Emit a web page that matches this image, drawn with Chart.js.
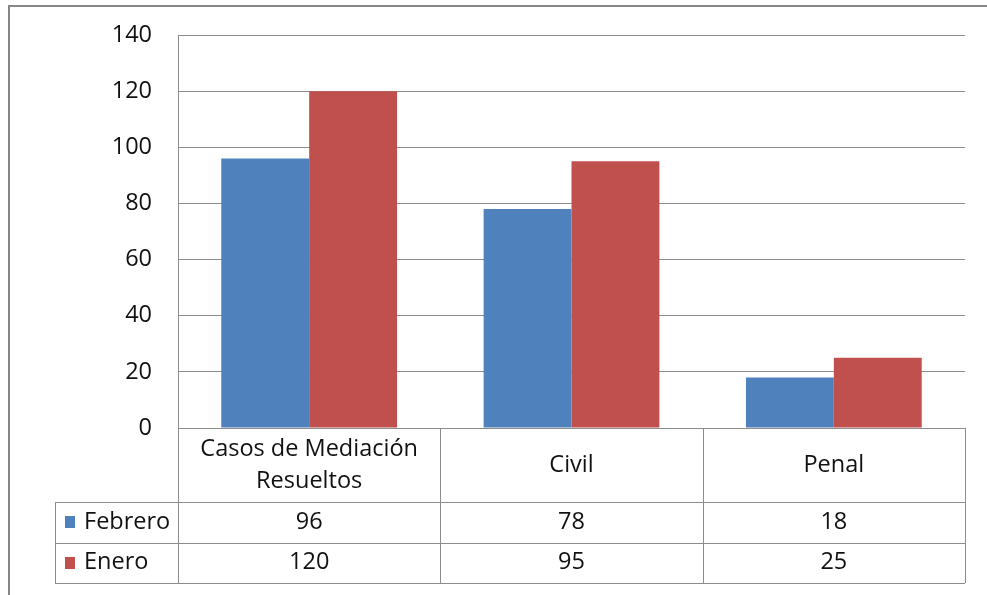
<!DOCTYPE html>
<html><head><meta charset="utf-8">
<script src="https://cdn.jsdelivr.net/npm/chart.js@4/dist/chart.umd.min.js"></script>
<style>html,body{margin:0;padding:0;background:#fff;}#wrap{width:987px;height:595px;position:relative;}</style>
</head><body><div id="wrap"><canvas id="c" width="987" height="595"></canvas></div>
<script>
const categories = [["Casos de Mediación","Resueltos"], "Civil", "Penal"];
const seriesNames = ["Febrero", "Enero"];
const febrero = [96, 78, 18];
const enero = [120, 95, 25];
const yTicks = [0, 20, 40, 60, 80, 100, 120, 140];
const colors = ["#4F81BD", "#C0504D"];

const FONT = "'Open Sans', sans-serif";
const FS = 23.5;
const LINE = "#8c8c8c";
const TXT = "#111111";

const tablePlugin = {
  id: 'dataTable',
  beforeDraw(chart) {
    const ctx = chart.ctx;
    ctx.save();
    ctx.fillStyle = '#fff';
    ctx.fillRect(0, 0, chart.width, chart.height);
    ctx.strokeStyle = '#878787';
    ctx.lineWidth = 2;
    ctx.strokeRect(9, 6, chart.width + 20, chart.height + 20);
    ctx.restore();
  },
  afterDraw(chart) {
    const ctx = chart.ctx;
    const a = chart.chartArea;
    const xs = chart.scales.x;
    const n = categories.length;
    const cw = (a.right - a.left) / n;
    const headerH = 74, rowH = 40.5;
    const legendLeft = a.left - 123;
    const yTop = a.bottom;
    const yHead = yTop + headerH;
    const rowsY = [yHead, yHead + rowH, yHead + 2 * rowH];
    ctx.save();
    ctx.strokeStyle = LINE;
    ctx.lineWidth = 1;
    const h = (x1, x2, y) => { ctx.beginPath(); ctx.moveTo(x1, Math.round(y) + 0.5); ctx.lineTo(x2, Math.round(y) + 0.5); ctx.stroke(); };
    const v = (x, y1, y2) => { ctx.beginPath(); ctx.moveTo(Math.round(x) + 0.5, y1); ctx.lineTo(Math.round(x) + 0.5, y2); ctx.stroke(); };
    h(a.left, a.right, yTop);
    rowsY.forEach(y => h(legendLeft, a.right, y));
    v(a.left, a.top, rowsY[2]);
    for (let i = 0; i < n; i++) {
      const right = xs.getPixelForValue(i) + cw / 2;
      v(right, yTop, rowsY[2]);
    }
    v(legendLeft, rowsY[0], rowsY[2]);
    ctx.fillStyle = TXT;
    ctx.font = FS + 'px ' + FONT;
    ctx.textAlign = 'center';
    ctx.textBaseline = 'middle';
    categories.forEach((c, i) => {
      const cx = xs.getPixelForValue(i);
      const lines = Array.isArray(c) ? c : [c];
      const lh = 32;
      const cy = (yTop + yHead) / 2;
      lines.forEach((t, k) => {
        ctx.fillText(t, cx, cy + (k - (lines.length - 1) / 2) * lh);
      });
    });
    const series = [febrero, enero];
    series.forEach((data, r) => {
      const cy = (rowsY[r] + rowsY[r + 1]) / 2;
      data.forEach((val, i) => {
        ctx.fillStyle = TXT;
        ctx.textAlign = 'center';
        ctx.fillText(String(val), xs.getPixelForValue(i), cy);
      });
      ctx.fillStyle = colors[r];
      ctx.fillRect(legendLeft + 10, Math.round(cy - 6), 10, 12);
      ctx.fillStyle = TXT;
      ctx.textAlign = 'left';
      ctx.fillText(seriesNames[r], legendLeft + 29, cy);
    });
    ctx.restore();
  }
};

new Chart(document.getElementById('c'), {
  type: 'bar',
  data: {
    labels: categories.map(c => Array.isArray(c) ? c.join(' ') : c),
    datasets: [
      { label: seriesNames[0], data: febrero, backgroundColor: colors[0], categoryPercentage: 0.67, barPercentage: 1.0 },
      { label: seriesNames[1], data: enero, backgroundColor: colors[1], categoryPercentage: 0.67, barPercentage: 1.0 }
    ]
  },
  options: {
    responsive: false,
    animation: false,
    devicePixelRatio: 1,
    layout: { padding: { left: 0, top: 35, right: 22, bottom: 167 } },
    plugins: { legend: { display: false }, tooltip: { enabled: false } },
    scales: {
      x: { display: false, offset: true },
      y: {
        min: 0, max: 140,
        afterBuildTicks(s) { s.ticks = yTicks.map(v => ({ value: v })); },
        afterFit(s) { s.width = 178; s.paddingTop = 0; s.paddingBottom = 0; },
        ticks: { padding: 26, color: TXT, font: { family: FONT, size: FS } },
        grid: { color: LINE, drawTicks: false, lineWidth: 1 },
        border: { display: true, color: LINE }
      }
    }
  },
  plugins: [tablePlugin]
});
</script></body></html>
